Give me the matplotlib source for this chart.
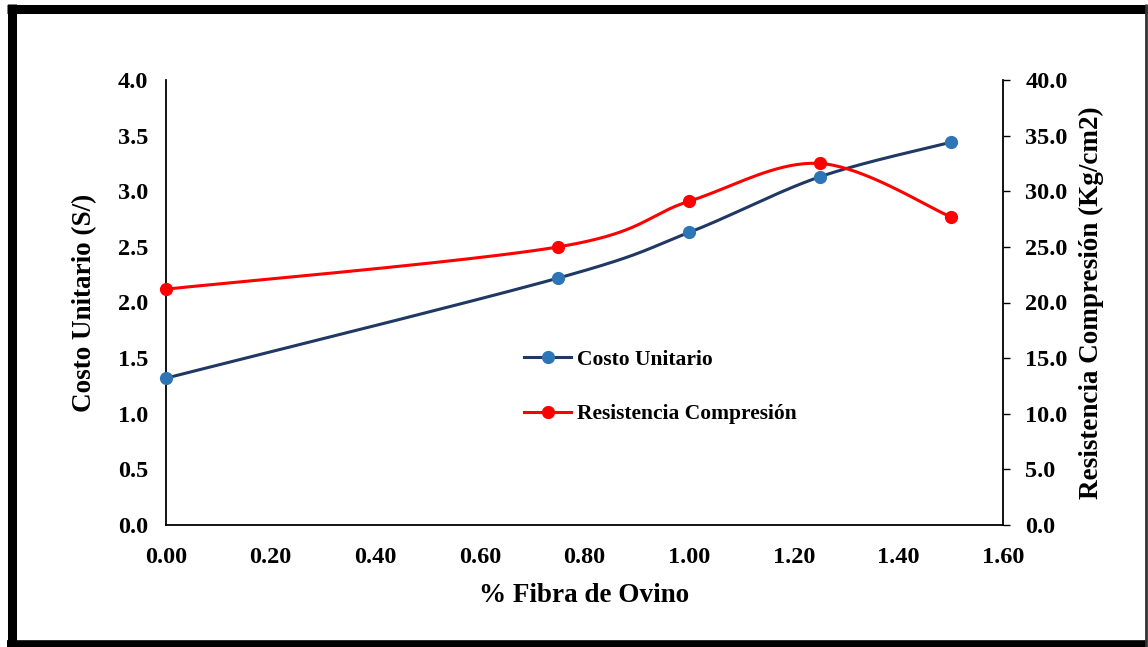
import numpy as np
import matplotlib
matplotlib.use("Agg")
import matplotlib.pyplot as plt
from matplotlib.lines import Line2D

# ---- data ----
fibra = [0.00, 0.75, 1.00, 1.25, 1.50]
costo = [1.32, 2.22, 2.63, 3.13, 3.44]
resistencia = [21.2, 25.0, 29.1, 32.5, 27.7]
xticks = [0.00, 0.20, 0.40, 0.60, 0.80, 1.00, 1.20, 1.40, 1.60]
yticks_left = [0.0, 0.5, 1.0, 1.5, 2.0, 2.5, 3.0, 3.5, 4.0]
yticks_right = [0, 5, 10, 15, 20, 25, 30, 35, 40]

plt.rcParams['font.family'] = ['Liberation Serif', 'DejaVu Serif']
plt.rcParams['font.weight'] = 'bold'

W, H = 1148, 647
fig = plt.figure(figsize=(W / 100, H / 100), dpi=100)
fig.patch.set_facecolor('white')

L, R, T, B = 166, 1003, 80, 525
ax = fig.add_axes([L / W, 1 - B / H, (R - L) / W, (B - T) / H])
ax2 = ax.twinx()

def smooth(x, y, xr, yr, w, h, n=40):
    # Catmull-Rom (Excel-like smoothing) in pixel-scaled coordinates
    px = np.array(x) / xr * w
    py = np.array(y) / yr * h
    P = np.column_stack([px, py])
    out = []
    for i in range(len(P) - 1):
        p0 = P[i - 1] if i > 0 else P[i]
        p1 = P[i]
        p2 = P[i + 1]
        p3 = P[i + 2] if i + 2 < len(P) else P[i + 1]
        c1 = p1 + (p2 - p0) / 6.0
        c2 = p2 - (p3 - p1) / 6.0
        t = np.linspace(0, 1, n)[:, None]
        seg = ((1 - t) ** 3) * p1 + 3 * ((1 - t) ** 2) * t * c1 + 3 * (1 - t) * t ** 2 * c2 + t ** 3 * p2
        out.append(seg if i == 0 else seg[1:])
    S = np.vstack(out)
    return S[:, 0] / w * xr, S[:, 1] / h * yr

pw, ph = R - L, B - T
blue_line = '#1F3864'
blue_mk = '#2E75B6'
red = '#FF0000'
lw = 2.2
ms = 8.5

sx, sy = smooth(fibra, costo, 1.6, 4.0, pw, ph)
ax.plot(sx, sy, color=blue_line, lw=lw, zorder=3, clip_on=False)
ax.plot(fibra, costo, 'o', color=blue_mk, ms=ms, zorder=4, clip_on=False)

rx, ry = smooth(fibra, resistencia, 1.6, 40.0, pw, ph)
ax2.plot(rx, ry, color=red, lw=lw, zorder=3, clip_on=False)
ax2.plot(fibra, resistencia, 'o', color=red, ms=ms, zorder=4, clip_on=False)

ax.set_xlim(0, 1.6)
ax.set_ylim(0, 4.0)
ax2.set_ylim(0, 40)
ax.set_xticks(xticks)
ax.set_xticklabels([f"{v:.2f}" for v in xticks])
ax.set_yticks(yticks_left)
ax.set_yticklabels([f"{v:.1f}" for v in yticks_left])
ax2.set_yticks(yticks_right)
ax2.set_yticklabels([f"{v:.1f}" for v in yticks_right])

fs = 17.5
ax.tick_params(axis='x', length=0, pad=16, labelsize=fs)
ax.tick_params(axis='y', length=0, pad=13, labelsize=fs)
ax2.tick_params(axis='y', length=5, width=1, pad=11, labelsize=fs, direction='out')

for a in (ax, ax2):
    a.spines['top'].set_visible(False)
    for s in ('left', 'right', 'bottom'):
        a.spines[s].set_linewidth(1.3)
        a.spines[s].set_color('black')
ax.spines['right'].set_visible(False)
ax2.spines['left'].set_visible(False)
ax2.spines['bottom'].set_visible(False)

lfs = 19.5
ax.set_xlabel('% Fibra de Ovino', fontsize=lfs, fontweight='bold', labelpad=11)
ax.set_ylabel('Costo Unitario (S/)', fontsize=lfs, fontweight='bold', labelpad=15)
ax2.set_ylabel('Resistencia Compresión (Kg/cm2)', fontsize=lfs, fontweight='bold', labelpad=8)

handles = [
    Line2D([], [], color=blue_line, lw=lw, marker='o', ms=ms, mfc=blue_mk, mec=blue_mk),
    Line2D([], [], color=red, lw=lw, marker='o', ms=ms, mfc=red, mec=red),
]
leg = fig.legend(handles, ['Costo Unitario', 'Resistencia Compresión'],
                 loc='center left', bbox_to_anchor=(524 / W, 1 - 387 / H),
                 frameon=False, fontsize=15.5, handlelength=2.2, handletextpad=0.28,
                 labelspacing=1.6, borderpad=0, borderaxespad=0)

# outer frame (thick left/top/bottom, thin right)
kw = dict(transform=fig.transFigure, solid_capstyle='butt')
fig.add_artist(Line2D([11.5 / W, 11.5 / W], [1 - 4 / H, 1 - 647 / H], color='black', lw=6.5, **kw))
fig.add_artist(Line2D([7 / W, 1147 / W], [1 - 8.5 / H, 1 - 8.5 / H], color='black', lw=6.5, **kw))
fig.add_artist(Line2D([7 / W, 1147 / W], [1 - 643.5 / H, 1 - 643.5 / H], color='black', lw=5.5, **kw))
fig.add_artist(Line2D([1145.5 / W, 1145.5 / W], [1 - 4 / H, 1 - 647 / H], color='#333333', lw=2, **kw))

fig.savefig('out.png', dpi=100)
